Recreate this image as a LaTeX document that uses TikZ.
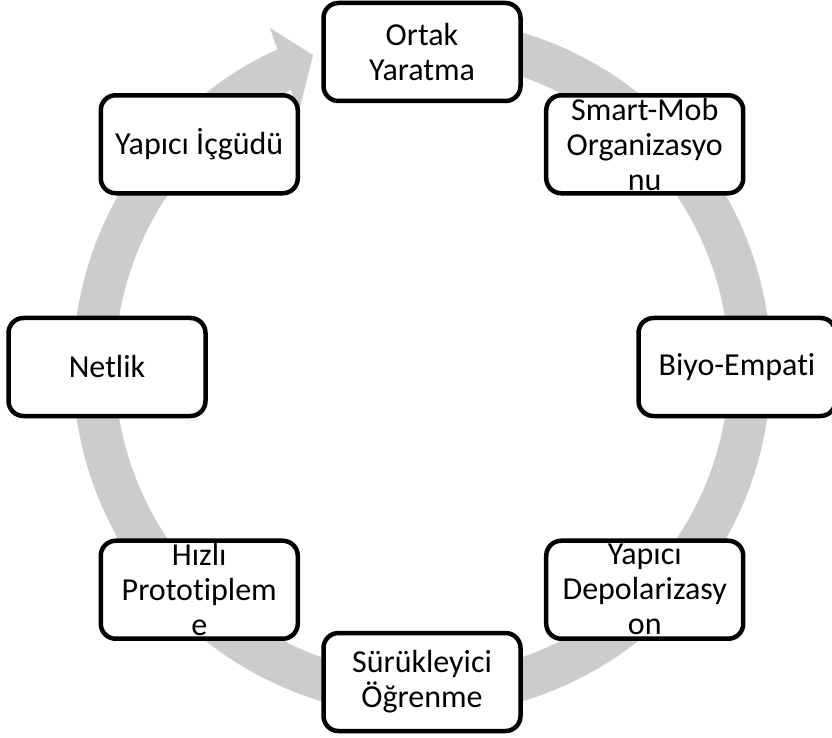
\documentclass[tikz,border=0pt]{standalone}
\usepackage{fontspec}
\setmainfont[Ligatures=NoCommon]{Carlito}
\usetikzlibrary{calc}
\definecolor{ringgray}{RGB}{204,204,204}
\tikzset{
  stagebox/.style={draw=black, line width=4.5pt, rounded corners=15pt, fill=white,
    minimum width=197pt, minimum height=98pt, inner sep=0pt},
  stagetext/.style={align=center, inner sep=0pt, text=black,
    font=\fontsize{32}{35}\selectfont}
}
\begin{document}
\begin{tikzpicture}[x=1pt, y=1pt]
  \useasboundingbox (0,0) rectangle (832,737);
  \coordinate (C) at (422,370);

  % circular arrow running clockwise round the cycle
  \coordinate (headout) at (270,709);
  \coordinate (tip) at (313,682);
  \coordinate (headin) at (298.5,624);
  \fill[ringgray] ($(C)+(85:349pt)$)
      arc[start angle=85, end angle=-245.5, radius=349pt]
      -- (headout) -- (tip) -- (headin)
      -- ($(C)+(-244.65:307pt)$)
      arc[start angle=-244.65, end angle=85, radius=307pt] -- cycle;

  % stages of the cycle
  \node[stagebox] (s1) at ($(C)+(90:315pt)$) {};
  \node[stagebox] (s2) at ($(C)+(45:315pt)$) {};
  \node[stagebox] (s3) at ($(C)+(0:315pt)$) {};
  \node[stagebox] (s4) at ($(C)+(-45:315pt)$) {};
  \node[stagebox] (s5) at ($(C)+(-90:315pt)$) {};
  \node[stagebox] (s6) at ($(C)+(-135:315pt)$) {};
  \node[stagebox] (s7) at ($(C)+(180:315pt)$) {};
  \node[stagebox] (s8) at ($(C)+(135:315pt)$) {};

  \node[stagetext] (t1) at (s1) {Ortak\\Yaratma};
  \node[stagetext] (t2) at (s2) {Smart-Mob\\Organizasyo\\nu};
  \node[stagetext] (t3) at (s3) {Biyo-Empati};
  \node[stagetext] (t4) at (s4) {Yapıcı\\Depolarizasy\\on};
  \node[stagetext] (t5) at (s5) {Sürükleyici\\Öğrenme};
  \node[stagetext] (t6) at (s6) {Hızlı\\Prototiplem\\e};
  \node[stagetext] (t7) at (s7) {Netlik};
  \node[stagetext] (t8) at (s8) {Yapıcı İçgüdü};
\end{tikzpicture}
\end{document}
